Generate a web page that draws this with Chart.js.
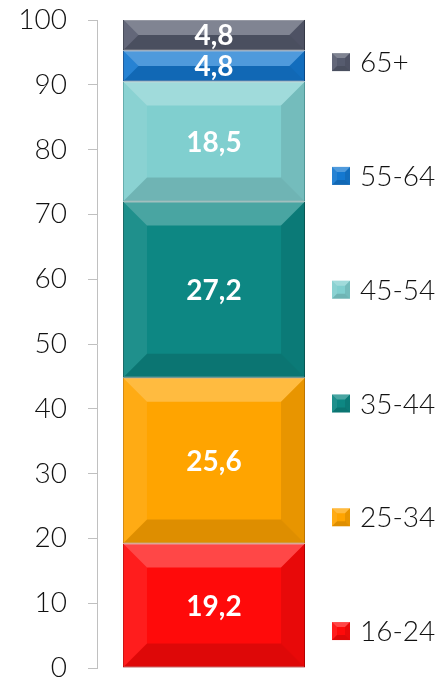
<!DOCTYPE html>
<html>
<head>
<meta charset="utf-8">
<script src="https://cdn.jsdelivr.net/npm/chart.js"></script>
<style>
  html, body { margin: 0; padding: 0; background: #fff; }
  #wrap { width: 445px; height: 684px; }
</style>
</head>
<body>
<div id="wrap"><canvas id="ageChart"></canvas></div>
<script>
// Tranches d'âge (du bas vers le haut) et parts en %
const groupes = ['16-24', '25-34', '35-44', '45-54', '55-64', '65+'];
const parts = [19.2, 25.6, 27.2, 18.5, 4.8, 4.8];
const couleurs = ['#ff0a0a', '#ffa400', '#0d8783', '#80cfcf', '#1478d0', '#565b6e'];
const bordures = ['#c80000', '#d08000', '#0a5f5c', '#5aa5a5', '#0d4f92', '#3a3e4c'];
const ticksY = [0, 10, 20, 30, 40, 50, 60, 70, 80, 90, 100];

// effet biseauté sur un rectangle
function biseau(ctx, left, top, right, bottom, b) {
  const faces = [
    [[left, top], [right, top], [right - b, top + b], [left + b, top + b], 'rgba(255,255,255,0.25)'],
    [[left, top], [left + b, top + b], [left + b, bottom - b], [left, bottom], 'rgba(255,255,255,0.08)'],
    [[right, top], [right - b, top + b], [right - b, bottom - b], [right, bottom], 'rgba(0,0,0,0.09)'],
    [[left, bottom], [left + b, bottom - b], [right - b, bottom - b], [right, bottom], 'rgba(0,0,0,0.13)']
  ];
  faces.forEach(f => {
    ctx.beginPath();
    ctx.moveTo(f[0][0], f[0][1]);
    for (let i = 1; i < 4; i++) ctx.lineTo(f[i][0], f[i][1]);
    ctx.closePath();
    ctx.fillStyle = f[4];
    ctx.fill();
  });
}

const biseauPlugin = {
  id: 'biseau',
  afterDatasetsDraw(chart) {
    const ctx = chart.ctx;
    ctx.save();
    chart.data.datasets.forEach((ds, i) => {
      const meta = chart.getDatasetMeta(i);
      meta.data.forEach(bar => {
        const p = bar.getProps(['x', 'y', 'base', 'width'], true);
        const left = p.x - p.width / 2, right = p.x + p.width / 2;
        const top = Math.min(p.y, p.base), bottom = Math.max(p.y, p.base);
        const b = Math.min(24, (bottom - top) / 2, p.width / 2);
        biseau(ctx, left, top, right, bottom, b);
        // valeur
        ctx.fillStyle = '#ffffff';
        ctx.font = 'bold 28px Lato';
        ctx.textAlign = 'center';
        ctx.textBaseline = 'middle';
        ctx.fillText(String(ds.data[0]).replace('.', ','), p.x, (top + bottom) / 2 + 1);
      });
    });
    ctx.restore();
  }
};

// légende dessinée à droite, répartie sur la hauteur
const legendePlugin = {
  id: 'legende',
  afterDraw(chart) {
    const ctx = chart.ctx;
    const area = chart.chartArea;
    const h = area.bottom - area.top;
    ctx.save();
    ctx.font = '300 28px Lato';
    ctx.textAlign = 'left';
    ctx.textBaseline = 'middle';
    groupes.forEach((g, i) => {
      const k = groupes.length - 1 - i;
      const cy = area.top + h * (0.065 + k * 0.1756);
      const x = area.right + 1;
      ctx.fillStyle = couleurs[i];
      ctx.fillRect(x, cy - 9, 18, 18);
      biseau(ctx, x, cy - 9, x + 18, cy + 9, 5);
      ctx.fillStyle = '#111';
      ctx.fillText(g, x + 28, cy + 1);
    });
    ctx.restore();
  }
};

const datasets = groupes.map((g, i) => ({
  label: g,
  data: [parts[i]],
  backgroundColor: couleurs[i],
  borderColor: bordures[i],
  borderWidth: 1,
  borderSkipped: false,
  categoryPercentage: 1,
  barPercentage: 0.778
}));

new Chart(document.getElementById('ageChart'), {
  type: 'bar',
  data: { labels: [''], datasets: datasets },
  options: {
    responsive: true,
    maintainAspectRatio: false,
    animation: false,
    layout: { padding: { left: 18, right: 114, top: 20, bottom: 16 } },
    plugins: {
      legend: { display: false },
      tooltip: { enabled: false }
    },
    scales: {
      x: {
        stacked: true,
        display: false
      },
      y: {
        stacked: true,
        min: 0,
        max: 100,
        afterBuildTicks: axis => { axis.ticks = ticksY.map(v => ({ value: v })); },
        afterFit: axis => {
          axis.width = 79;
          axis.paddingTop = 0;
          axis.paddingBottom = 0;
        },
        grid: {
          drawOnChartArea: false,
          drawTicks: true,
          tickLength: 9,
          color: '#c0c0c0'
        },
        border: { display: true, color: '#c0c0c0' },
        ticks: {
          padding: 21,
          color: '#111',
          font: { family: 'Lato', size: 28, weight: '300' }
        }
      }
    }
  },
  plugins: [biseauPlugin, legendePlugin]
});
</script>
</body>
</html>
